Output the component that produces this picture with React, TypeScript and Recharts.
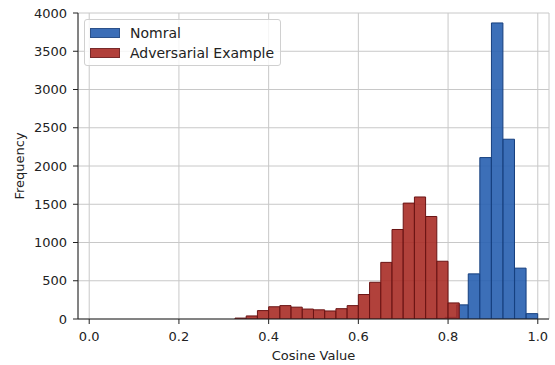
import { ComposedChart, Bar, XAxis, YAxis, CartesianGrid, Legend } from "recharts";

// histogram bins (left edges) and counts
const RED_BIN = 0.025;
const redStarts = [
  0.325, 0.35, 0.375, 0.4, 0.425, 0.45, 0.475, 0.5, 0.525, 0.55,
  0.575, 0.6, 0.625, 0.65, 0.675, 0.7, 0.725, 0.75, 0.775, 0.8,
];
const redCounts = [
  12, 40, 110, 160, 175, 155, 130, 120, 105, 135,
  175, 320, 480, 740, 1170, 1515, 1595, 1340, 755, 210,
];

const BLUE_BIN = 0.0258;
const blueStarts = [
  0.4833, 0.5092, 0.535, 0.5608, 0.5867, 0.6125, 0.6383, 0.6642, 0.69, 0.7158,
  0.7417, 0.7675, 0.7933, 0.8192, 0.845, 0.8708, 0.8967, 0.9225, 0.9483, 0.9742,
];
const blueCounts = [
  0, 0, 0, 0, 0, 0, 0, 0, 0, 0,
  2, 8, 22, 185, 590, 2110, 3870, 2350, 665, 70,
];

const xTicks = [0, 0.2, 0.4, 0.6, 0.8, 1.0];
const yTicks = [0, 500, 1000, 1500, 2000, 2500, 3000, 3500, 4000];

const X_DOMAIN: [number, number] = [-0.025, 1.025];
const W = 555;
const H = 365;
const MARGIN = { top: 13, right: 6, left: 0, bottom: 0 };
const Y_AXIS_W = 78;
const PLOT_W = W - MARGIN.left - MARGIN.right - Y_AXIS_W;
const PX_PER_UNIT = PLOT_W / (X_DOMAIN[1] - X_DOMAIN[0]);

const data = redStarts.map((s, i) => ({
  xr: s + RED_BIN / 2,
  red: redCounts[i],
  xb: blueStarts[i] + BLUE_BIN / 2,
  blue: blueCounts[i],
}));

const INK = "#222";
const BLUE_FILL = "#275fb0";
const BLUE_EDGE = "#163f7e";
const RED_FILL = "#a92c26";
const RED_EDGE = "#6a1414";

function LegendBox() {
  const items = [
    { label: "Nomral", fill: BLUE_FILL, edge: BLUE_EDGE },
    { label: "Adversarial Example", fill: RED_FILL, edge: RED_EDGE },
  ];
  return (
    <div style={{
      background: "rgba(255,255,255,0.8)", border: "1px solid #d0d0d0", borderRadius: 3,
      padding: "2.5px 6px 1.5px 5px", fontSize: 14, color: INK, lineHeight: "20px",
    }}>
      {items.map((it) => (
        <div key={it.label} style={{ display: "flex", alignItems: "center", height: 20.5 }}>
          <span style={{
            display: "inline-block", width: 28, height: 8, background: it.fill, opacity: 0.9,
            border: `1px solid ${it.edge}`, marginRight: 10,
          }} />
          <span>{it.label}</span>
        </div>
      ))}
    </div>
  );
}

export default function App() {
  return (
    <div style={{ position: "absolute", left: 0, top: 0, width: W, height: H, background: "#fff", fontFamily: "'DejaVu Sans', sans-serif" }}>
      <ComposedChart width={W} height={H} data={data} margin={MARGIN}>
        <CartesianGrid stroke="#c8c8c8" strokeWidth={1} />
        <XAxis
          dataKey="xr" type="number" domain={X_DOMAIN} allowDataOverflow ticks={xTicks}
          tickFormatter={(v: number) => v.toFixed(1)} height={46} tickSize={5} tickMargin={8}
          tick={{ fill: INK, fontSize: 13 }} stroke={INK}
          label={{ value: "Cosine Value", position: "insideBottom", offset: 5, fill: INK, fontSize: 13 }}
        />
        <XAxis
          xAxisId="blue" dataKey="xb" type="number" domain={X_DOMAIN} allowDataOverflow
          orientation="top" height={0} tick={false} tickLine={false} stroke={INK}
        />
        <YAxis
          type="number" domain={[0, 4000]} ticks={yTicks} width={Y_AXIS_W} tickSize={5} tickMargin={6}
          tick={{ fill: INK, fontSize: 13 }} stroke={INK} allowDataOverflow
          label={{ value: "Frequency", angle: -90, position: "insideLeft", offset: 19, fill: INK, fontSize: 13, style: { textAnchor: "middle" } }}
        />
        <YAxis
          yAxisId="right" orientation="right" type="number" domain={[0, 4000]} width={0}
          tick={false} tickLine={false} stroke={INK}
        />
        <Legend
          layout="vertical" align="center" verticalAlign="middle"
          wrapperStyle={{ left: 84, top: 19, width: "auto" }}
          content={() => <LegendBox />}
        />
        <Bar
          xAxisId="blue" dataKey="blue" name="Nomral" barSize={BLUE_BIN * PX_PER_UNIT - 0.1}
          fill={BLUE_FILL} fillOpacity={0.9} stroke={BLUE_EDGE} strokeWidth={1} isAnimationActive={false}
        />
        <Bar
          dataKey="red" name="Adversarial Example" barSize={RED_BIN * PX_PER_UNIT - 0.05}
          fill={RED_FILL} fillOpacity={0.9} stroke={RED_EDGE} strokeWidth={1} isAnimationActive={false}
        />
      </ComposedChart>
    </div>
  );
}
